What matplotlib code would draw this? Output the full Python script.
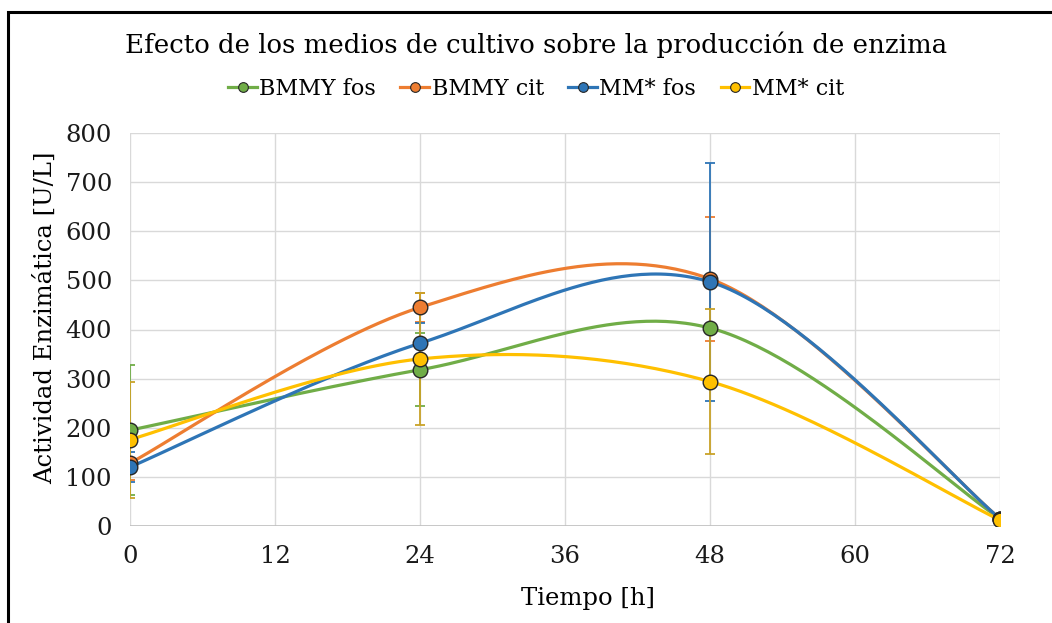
import numpy as np
import matplotlib.pyplot as plt
from matplotlib.patches import Rectangle

plt.rcParams['font.family'] = ['DejaVu Serif']

# datos
tiempo = [0, 24, 48, 72]
series = ['BMMY fos', 'BMMY cit', 'MM* fos', 'MM* cit']
bmmy_fos = [195, 318, 403, 15]
bmmy_cit = [128, 445, 503, 15]
mm_fos = [120, 372, 497, 15]
mm_cit = [176, 340, 294, 12]
err_bmmy_fos = [132, 74, 102, 0]
err_bmmy_cit = [35, 30, 126, 0]
err_mm_fos = [30, 42, 242, 0]
err_mm_cit = [118, 134, 147, 0]

colores = ['#70AD47', '#ED7D31', '#2E75B6', '#FFC000']
colores_err = ['#70AD47', '#ED7D31', '#2E75B6', '#C9A227']


def suavizar(x, y, n=60):
    # curva tipo Excel (Bezier con tension 1/6)
    x = np.asarray(x, float)
    y = np.asarray(y, float)
    px = np.concatenate([[x[0]], x, [x[-1]]])
    py = np.concatenate([[y[0]], y, [y[-1]]])
    xs, ys = [], []
    t = np.linspace(0, 1, n)
    for i in range(1, len(px) - 2):
        p0 = np.array([px[i], py[i]])
        p3 = np.array([px[i + 1], py[i + 1]])
        p1 = p0 + (np.array([px[i + 1], py[i + 1]]) - np.array([px[i - 1], py[i - 1]])) / 6
        p2 = p3 - (np.array([px[i + 2], py[i + 2]]) - np.array([px[i], py[i]])) / 6
        b = ((1 - t) ** 3)[:, None] * p0 + (3 * (1 - t) ** 2 * t)[:, None] * p1 \
            + (3 * (1 - t) * t ** 2)[:, None] * p2 + (t ** 3)[:, None] * p3
        xs.extend(b[:, 0])
        ys.extend(b[:, 1])
    return xs, ys


fig = plt.figure(figsize=(10.52, 6.23), dpi=100)
ax = fig.add_axes([130 / 1052, 1 - 526 / 623, 870 / 1052, 393 / 623])

datos = [bmmy_fos, bmmy_cit, mm_fos, mm_cit]
errores = [err_bmmy_fos, err_bmmy_cit, err_mm_fos, err_mm_cit]

for nombre, y, e, c, ce in zip(series, datos, errores, colores, colores_err):
    xs, ys = suavizar(tiempo, y)
    ax.plot(xs, ys, color=c, lw=2.3, zorder=3, solid_capstyle='round')
    ax.errorbar(tiempo, y, yerr=e, fmt='none', ecolor=ce, elinewidth=1.3,
                capsize=3.5, capthick=1.3, zorder=4)
    ax.plot(tiempo, y, 'o', color=c, markersize=10.5, markeredgecolor='#262626',
            markeredgewidth=1, zorder=5)
    ax.plot([], [], '-o', color=c, lw=2.3, markersize=7, markeredgecolor='#262626',
            markeredgewidth=0.8, label=nombre)

ax.set_xlim(0, 72)
ax.set_ylim(0, 800)
ax.set_xticks(range(0, 73, 12))
ax.set_yticks(range(0, 801, 100))
ax.grid(True, color='#D9D9D9', lw=1)
ax.set_axisbelow(True)
for s in ax.spines.values():
    s.set_visible(False)
ax.axhline(0, color='#BFBFBF', lw=1.2, zorder=2)
ax.tick_params(length=0, labelsize=17.5, colors='#1a1a1a')
ax.tick_params(axis='y', pad=13)
ax.tick_params(axis='x', pad=14)
ax.set_xlabel('Tiempo [h]', fontsize=17.5)
ax.set_ylabel('Actividad Enzimática [U/L]', fontsize=17.5)
ax.xaxis.set_label_coords((588 - 130) / 870, -(598 - 526) / 393)
ax.yaxis.set_label_coords(-(130 - 45) / 870, (526 - 318) / 393)
ax.xaxis.label.set_va('center')
ax.yaxis.label.set_va('center')

fig.text(536 / 1052, 1 - 45 / 623, 'Efecto de los medios de cultivo sobre la producción de enzima',
         ha='center', va='center', fontsize=18.7)
fig.legend(loc='center', bbox_to_anchor=(536 / 1052, 1 - 89 / 623), ncol=4, frameon=False,
           fontsize=16, handlelength=1.3, handletextpad=0.1, columnspacing=1.1)

# borde del grafico
fig.patches.append(Rectangle((8 / 1052, -0.05), 1.1, 1 - 12 / 623 + 0.05,
                             transform=fig.transFigure, fill=False, lw=2.2,
                             edgecolor='black', clip_on=False))

fig.savefig('out.png', dpi=100)
